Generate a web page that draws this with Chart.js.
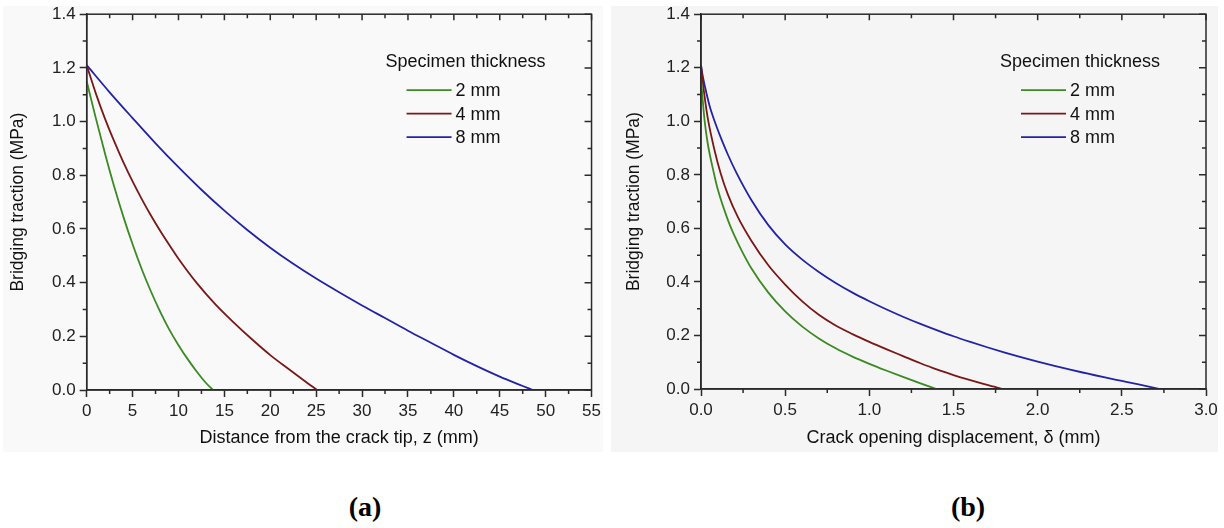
<!DOCTYPE html>
<html>
<head>
<meta charset="utf-8">
<script src="https://cdn.jsdelivr.net/npm/chart.js@4.4.1/dist/chart.umd.min.js"></script>
<style>
  html, body { margin: 0; padding: 0; background: #fff; width: 1224px; height: 528px; overflow: hidden; }
  .panel { position: absolute; }
  #bgA { left: 3px; top: 6px; width: 600px; height: 446px; background: #f9f9f9; }
  #bgB { left: 611px; top: 6px; width: 607px; height: 446px; background: #f5f5f5; }
  canvas { position: absolute; top: 0; }
  #cA { left: 0; }
  #cB { left: 605px; }
  .tag { position: absolute; top: 491px; transform: translateX(-50%); font: bold 28px "Liberation Serif", "Times New Roman", serif; color: #000; }
</style>
</head>
<body>
<div class="panel" id="bgA"></div>
<div class="panel" id="bgB"></div>
<canvas id="cA" width="605" height="455"></canvas>
<canvas id="cB" width="619" height="455"></canvas>
<div class="tag" style="left:365px">(a)</div>
<div class="tag" style="left:968px">(b)</div>
<script>
// ---- series labels / colours ----
const seriesLabels = ['2 mm', '4 mm', '8 mm'];
const seriesColors = ['#3b8a22', '#7a1818', '#2323a8'];

// ---- (a) bridging traction vs distance from crack tip z (mm) ----
const zGreen = [0, 1, 2, 3, 4, 5, 6, 7, 8, 9, 10, 11, 12, 13, 13.75];
const tGreenA = [1.15, 1.012, 0.88, 0.757, 0.645, 0.543, 0.45, 0.367, 0.292, 0.225, 0.167, 0.115, 0.068, 0.026, 0];
const zRed = [0, 1, 2, 3, 4, 5, 6, 7, 8, 9, 10, 12, 14, 16, 18, 20, 22, 24, 25.1];
const tRedA = [1.21, 1.104, 1.01, 0.926, 0.848, 0.777, 0.711, 0.65, 0.593, 0.54, 0.489, 0.398, 0.32, 0.252, 0.189, 0.13, 0.078, 0.027, 0];
const zBlue = [0, 2.5, 5, 7.5, 10, 12.5, 15, 17.5, 20, 22.5, 25, 27.5, 30, 32.5, 35, 37.5, 40, 42.5, 45, 47.5, 48.6];
const tBlueA = [1.21, 1.109, 1.013, 0.919, 0.83, 0.746, 0.668, 0.596, 0.53, 0.47, 0.415, 0.364, 0.315, 0.268, 0.221, 0.176, 0.131, 0.089, 0.05, 0.015, 0];

// ---- (b) bridging traction vs crack opening displacement (mm) ----
const dGreen = [0, 0.01, 0.022, 0.04, 0.077, 0.1, 0.16, 0.2, 0.24, 0.3, 0.4, 0.5, 0.6, 0.7, 0.8, 0.9, 1.0, 1.1, 1.2, 1.3, 1.4];
const tGreenB = [1.16, 1.08, 1.0, 0.917, 0.805, 0.745, 0.631, 0.571, 0.519, 0.45, 0.36, 0.29, 0.234, 0.189, 0.152, 0.121, 0.094, 0.069, 0.045, 0.022, 0];
const dRed = [0, 0.01, 0.025, 0.042, 0.08, 0.117, 0.16, 0.22, 0.3, 0.4, 0.5, 0.6, 0.7, 0.8, 0.9, 1.0, 1.1, 1.2, 1.3, 1.4, 1.5, 1.6, 1.7, 1.79];
const tRedB = [1.21, 1.15, 1.075, 1.005, 0.893, 0.805, 0.726, 0.641, 0.553, 0.462, 0.39, 0.328, 0.277, 0.237, 0.205, 0.176, 0.149, 0.123, 0.097, 0.073, 0.052, 0.033, 0.015, 0];
const dBlue = [0, 0.01, 0.025, 0.05, 0.081, 0.12, 0.16, 0.21, 0.3, 0.4, 0.5, 0.6, 0.7, 0.8, 0.9, 1.0, 1.1, 1.2, 1.3, 1.4, 1.5, 1.6, 1.7, 1.8, 1.9, 2.0, 2.1, 2.2, 2.3, 2.4, 2.5, 2.6, 2.72];
const tBlueB = [1.21, 1.17, 1.125, 1.06, 1.0, 0.935, 0.875, 0.808, 0.705, 0.612, 0.54, 0.484, 0.437, 0.396, 0.36, 0.328, 0.298, 0.27, 0.244, 0.22, 0.197, 0.176, 0.156, 0.137, 0.119, 0.102, 0.086, 0.071, 0.057, 0.043, 0.03, 0.017, 0];

const FONT = 'Arial, "Liberation Sans", sans-serif';
const INK = '#2a2a2a';

function pts(xs, ys) { return xs.map((v, i) => ({ x: v, y: ys[i] })); }

function sets(groups) {
    return groups.map((g, i) => ({
        label: seriesLabels[i],
        data: pts(g[0], g[1]),
        showLine: true,
        borderColor: seriesColors[i],
        borderWidth: 1.8,
        pointRadius: 0,
        cubicInterpolationMode: 'monotone',
        fill: false
    }));
}

// frame, minor ticks, mirrored ticks and the in-plot legend
const framePlugin = {
    id: 'frame',
    afterDraw(chart) {
        const { ctx, chartArea: a, scales: { x, y } } = chart;
        ctx.save();
        ctx.strokeStyle = INK;
        ctx.lineWidth = 1.5;
        ctx.strokeRect(a.left, a.top, a.right - a.left, a.bottom - a.top);

        const xs = x.ticks.map(t => t.value);
        const ys = y.ticks.map(t => t.value);
        ctx.beginPath();
        xs.forEach((v, i) => {
            const p = x.getPixelForValue(v);
            ctx.moveTo(p, a.top); ctx.lineTo(p, a.top + 6);
            if (i < xs.length - 1) {
                const m = x.getPixelForValue((v + xs[i + 1]) / 2);
                ctx.moveTo(m, a.bottom); ctx.lineTo(m, a.bottom + 4);
                ctx.moveTo(m, a.top); ctx.lineTo(m, a.top + 4);
            }
        });
        ys.forEach((v, i) => {
            const p = y.getPixelForValue(v);
            ctx.moveTo(a.right, p); ctx.lineTo(a.right - 7, p);
            if (i < ys.length - 1) {
                const m = y.getPixelForValue((v + ys[i + 1]) / 2);
                ctx.moveTo(a.left, m); ctx.lineTo(a.left - 4, m);
                ctx.moveTo(a.right, m); ctx.lineTo(a.right - 4, m);
            }
        });
        ctx.stroke();

        // legend
        ctx.font = '18px ' + FONT;
        ctx.fillStyle = '#111';
        ctx.textBaseline = 'middle';
        ctx.textAlign = 'center';
        ctx.fillText('Specimen thickness', a.right - 126, a.top + 48);
        ctx.textAlign = 'left';
        chart.data.datasets.forEach((ds, i) => {
            const yy = a.top + 76 + i * 23.5;
            ctx.strokeStyle = ds.borderColor;
            ctx.lineWidth = 1.8;
            ctx.beginPath();
            ctx.moveTo(a.right - 185, yy); ctx.lineTo(a.right - 140, yy);
            ctx.stroke();
            ctx.fillText(ds.label, a.right - 136, yy + 1);
        });
        ctx.restore();
    }
};

function makeChart(id, groups, xMax, xStep, xDigits, xTitle, yW, yTitlePad, padRight, xH) {
    return new Chart(document.getElementById(id), {
        type: 'scatter',
        data: { datasets: sets(groups) },
        plugins: [framePlugin],
        options: {
            responsive: false,
            animation: false,
            layout: { padding: { top: 14, right: padRight, left: 0, bottom: 0 } },
            plugins: { legend: { display: false }, tooltip: { enabled: false } },
            scales: {
                x: {
                    type: 'linear', min: 0, max: xMax,
                    afterFit: s => { s.height = xH; },
                    ticks: { stepSize: xStep, padding: 4, color: '#222', font: { family: FONT, size: 17 },
                             callback: v => v.toFixed(xDigits) },
                    grid: { drawOnChartArea: false, tickLength: 7, tickWidth: 1.5, color: INK },
                    border: { color: INK, width: 1.5 },
                    title: { display: true, text: xTitle, color: '#111', font: { family: FONT, size: 18 },
                             padding: { top: 0, bottom: 6 } }
                },
                y: {
                    type: 'linear', min: 0, max: 1.4,
                    afterFit: s => { s.width = yW; },
                    ticks: { stepSize: 0.2, padding: 4, color: '#222', font: { family: FONT, size: 17 },
                             callback: v => v.toFixed(1) },
                    grid: { drawOnChartArea: false, tickLength: 7, tickWidth: 1.5, color: INK },
                    border: { color: INK, width: 1.5 },
                    title: { display: true, text: 'Bridging traction (MPa)', color: '#111', font: { family: FONT, size: 17.5 },
                             padding: { top: yTitlePad, bottom: 0 } }
                }
            }
        }
    });
}

makeChart('cA', [[zGreen, tGreenA], [zRed, tRedA], [zBlue, tBlueA]],
    55, 5, 0, 'Distance from the crack tip, z (mm)', 86.7, 8, 13, 65);
makeChart('cB', [[dGreen, tGreenB], [dRed, tRedB], [dBlue, tBlueB]],
    3, 0.5, 1, 'Crack opening displacement, \u03b4 (mm)', 96, 19, 18, 66);
</script>
</body>
</html>
